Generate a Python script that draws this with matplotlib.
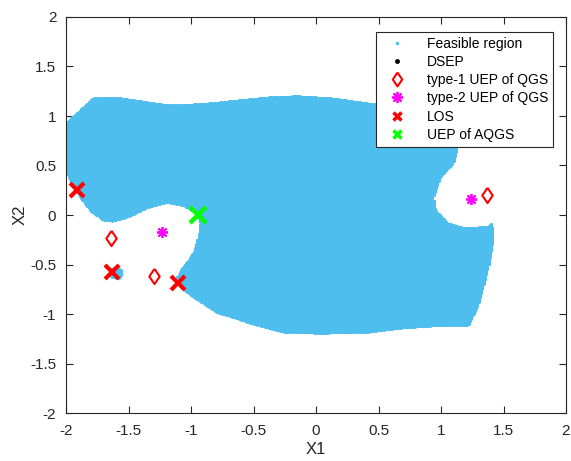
import numpy as np
import matplotlib
matplotlib.use("Agg")
import matplotlib.pyplot as plt
from matplotlib.path import Path

plt.rcParams['font.family'] = ['Liberation Sans', 'DejaVu Sans']

# boundary of the feasible region, clockwise
region_x = [-2.000, -1.888, -1.784, -1.568, -1.408, -1.248, -1.088, -0.848, -0.608,
            -0.368, -0.152, 0.112, 0.352, 0.592, 0.832, 1.032, 1.120, 1.136, 1.128,
            1.096, 0.992, 0.936, 0.952, 1.048, 1.176, 1.368, 1.408, 1.416, 1.376,
            1.328, 1.288, 1.216, 1.016, 0.672, 0.408, 0.032, -0.264, -0.528, -0.792,
            -0.968, -1.088, -1.112, -1.064, -0.984, -0.944, -0.928, -0.952, -1.064,
            -1.192, -1.352, -1.512, -1.624, -1.704, -1.808, -1.888, -1.968, -2.000]
region_y = [0.929, 1.061, 1.182, 1.182, 1.152, 1.121, 1.111, 1.131, 1.162,
            1.192, 1.202, 1.182, 1.141, 1.101, 1.061, 1.000, 0.879, 0.758, 0.677,
            0.525, 0.384, 0.182, 0.051, -0.081, -0.131, -0.121, -0.081, -0.253, -0.525,
            -0.758, -0.929, -1.111, -1.111, -1.141, -1.182, -1.192, -1.182, -1.091, -0.980,
            -0.838, -0.727, -0.626, -0.525, -0.384, -0.222, -0.081, 0.020, 0.101,
            0.131, 0.081, -0.020, -0.061, -0.051, 0.051, 0.182, 0.354, 0.434]
# small separate patch near the lower-left LOS
blob_x = [-1.65, -1.60, -1.56, -1.55, -1.58, -1.63, -1.66]
blob_y = [-0.55, -0.53, -0.56, -0.60, -0.64, -0.63, -0.59]

dsep_x, dsep_y = [0.0], [0.0]
uep1_x = [-1.640, -1.296, 1.370]
uep1_y = [-0.235, -0.616, 0.202]
uep2_x = [-1.234, 1.238]
uep2_y = [-0.169, 0.159]
los_x = [-1.912, -1.632, -1.102]
los_y = [0.253, -0.576, -0.690]
aqgs_x = [-0.944]
aqgs_y = [0.005]

# sample grid, keep points inside the region
gx, gy = np.meshgrid(np.arange(-2, 2.0001, 0.01), np.arange(-2, 2.0001, 0.005))
pts = np.column_stack([gx.ravel(), gy.ravel()])
inside = Path(np.column_stack([region_x, region_y])).contains_points(pts)
inside |= Path(np.column_stack([blob_x, blob_y])).contains_points(pts)
feas = pts[inside]

# matlab-like diamond (wider than matplotlib's thin 'd')
diamond = [(0, 1), (0.68, 0), (0, -1), (-0.68, 0), (0, 1)]

fig = plt.figure(figsize=(5.71, 4.61), dpi=100)
ax = fig.add_axes([66/571, 48/461, 500/571, 396/461])

ax.plot(feas[:, 0], feas[:, 1], '.', color='#4DBEEE', markersize=2.2,
        label='Feasible region', zorder=2)
ax.plot(dsep_x, dsep_y, '.', color='k', markersize=5, label='DSEP', zorder=1)
ax.plot(uep1_x, uep1_y, marker=diamond, mfc='none', mec='red', markersize=11, mew=1.5,
        linestyle='none', label='type-1 UEP of QGS', zorder=3)
ax.plot(uep2_x, uep2_y, marker=(8, 2, 0), color='magenta', markersize=8, mew=1.3,
        linestyle='none', label='type-2 UEP of QGS', zorder=3)
ax.plot(los_x, los_y, 'x', color='red', markersize=10, mew=3,
        linestyle='none', label='LOS', zorder=3)
ax.plot(aqgs_x, aqgs_y, 'x', color='#00FF00', markersize=12, mew=3.2,
        linestyle='none', label='UEP of AQGS', zorder=3)

ax.set_xlim(-2, 2)
ax.set_ylim(-2, 2)
ticks = np.arange(-2, 2.01, 0.5)
ax.set_xticks(ticks)
ax.set_yticks(ticks)
ax.set_xticklabels([f'{t:g}' for t in ticks])
ax.set_yticklabels([f'{t:g}' for t in ticks])
ax.tick_params(direction='in', length=5, width=0.8, labelsize=11, colors='#262626',
               top=True, right=True)
ax.tick_params(axis='x', pad=8)
ax.tick_params(axis='y', pad=7)
for s in ax.spines.values():
    s.set_color('#262626')
    s.set_linewidth(0.8)
ax.set_xlabel('X1', fontsize=12, color='#262626', labelpad=3)
ax.set_ylabel('X2', fontsize=12, color='#262626', labelpad=2)

leg = ax.legend(loc='upper right', bbox_to_anchor=((553-66)/500, (413-32)/396),
                borderaxespad=0, fontsize=10, fancybox=False, framealpha=1,
                edgecolor='#262626', labelspacing=0.3, handletextpad=1.0,
                borderpad=0.35, handlelength=2.3)
leg.get_frame().set_linewidth(0.8)
hs = leg.legend_handles
hs[0].set_markersize(3)
hs[2].set_markersize(10)
hs[4].set_markersize(6)
hs[4].set_markeredgewidth(2.5)
hs[5].set_markersize(6)
hs[5].set_markeredgewidth(2.5)

fig.savefig('out.png', dpi=100)
